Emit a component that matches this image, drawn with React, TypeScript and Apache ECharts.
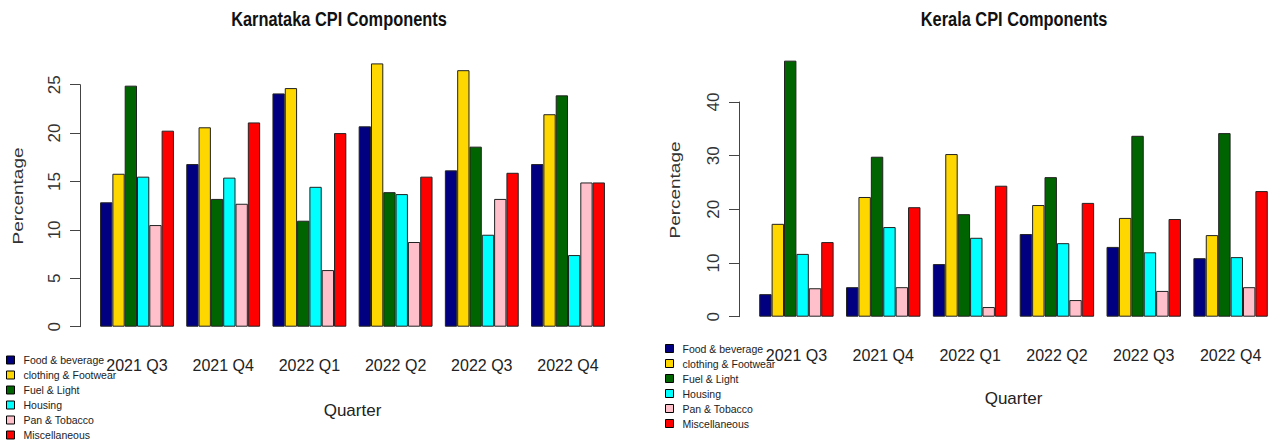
import React, { useEffect, useRef } from "react";
import * as echarts from "echarts";

const categories = ["2021 Q3", "2021 Q4", "2022 Q1", "2022 Q2", "2022 Q3", "2022 Q4"];
const componentNames = ["Food & beverage", "clothing & Footwear", "Fuel & Light", "Housing", "Pan & Tobacco", "Miscellaneous"];
const componentColors = ["#000080", "#FFD700", "#006400", "#00FFFF", "#FFC0CB", "#FF0000"];

const karnatakaFood = [12.85, 16.8, 24.1, 20.7, 16.15, 16.8];
const karnatakaClothing = [15.8, 20.6, 24.65, 27.2, 26.5, 21.95];
const karnatakaFuel = [24.9, 13.2, 10.95, 13.9, 18.6, 23.9];
const karnatakaHousing = [15.5, 15.4, 14.45, 13.7, 9.5, 7.4];
const karnatakaPan = [10.5, 12.7, 5.85, 8.75, 13.2, 14.9];
const karnatakaMisc = [20.25, 21.1, 20.0, 15.5, 15.9, 14.9];

const keralaFood = [4.2, 5.5, 9.8, 15.4, 13.0, 10.9];
const keralaClothing = [17.3, 22.3, 30.3, 20.8, 18.4, 15.2];
const keralaFuel = [47.7, 29.8, 19.1, 26.0, 33.7, 34.2];
const keralaHousing = [11.7, 16.7, 14.7, 13.7, 12.0, 11.1];
const keralaPan = [5.3, 5.5, 1.8, 3.1, 4.8, 5.5];
const keralaMisc = [13.9, 20.4, 24.4, 21.2, 18.2, 23.4];

const karnatakaTicks = { min: 0, max: 25, interval: 5 };
const keralaTicks = { min: 0, max: 40, interval: 10 };

const karnatakaSeries = [karnatakaFood, karnatakaClothing, karnatakaFuel, karnatakaHousing, karnatakaPan, karnatakaMisc];
const keralaSeries = [keralaFood, keralaClothing, keralaFuel, keralaHousing, keralaPan, keralaMisc];

const SANS = "'Liberation Sans', Arial, sans-serif";
const SQUEEZE = 0.78;

export default function App() {
  const ref = useRef<HTMLDivElement>(null);

  useEffect(() => {
    if (!ref.current) return;
    const chart = echarts.init(ref.current, undefined, { renderer: "svg" });

    const makeSeries = (vals: number[][], axisIdx: number) =>
      vals.map((d, i) => ({
        type: "bar",
        name: componentNames[i],
        xAxisIndex: axisIdx,
        yAxisIndex: axisIdx,
        data: d,
        barGap: "0%",
        barCategoryGap: "14.3%",
        itemStyle: { color: componentColors[i], borderColor: "#222", borderWidth: 1 },
      }));

    const axisYAxis = (gridIndex: number, t: { min: number; max: number; interval: number }) => ({
      type: "value",
      gridIndex,
      min: t.min,
      max: t.max,
      interval: t.interval,
      splitLine: { show: false },
      axisLine: { show: true, lineStyle: { color: "#444", width: 1 } },
      axisTick: { show: true, length: 10, lineStyle: { color: "#444" } },
      axisLabel: { rotate: 90, margin: 17, fontSize: 17, color: "#333", fontFamily: SANS },
    });

    const dataXAxis = (gridIndex: number, gap: number, margin: number) => ({
      type: "category",
      gridIndex,
      data: categories,
      axisLine: { show: false },
      axisTick: { show: false },
      axisLabel: { interval: 0, fontSize: 16, margin, color: "#222", fontFamily: SANS },
      name: "Quarter",
      nameLocation: "middle",
      nameGap: gap,
      nameTextStyle: { fontSize: 17, color: "#222", fontFamily: SANS },
    });

    const legendCommon = {
      orient: "vertical",
      icon: "rect",
      itemWidth: 8,
      itemHeight: 8,
      itemGap: 0,
      padding: 0,
      data: componentNames,
      selectedMode: false,
      itemStyle: { borderColor: "#000", borderWidth: 1 },
      textStyle: { fontSize: 10.5, color: "#222", fontFamily: SANS, lineHeight: 15, padding: [0, 0, 0, 4] },
    };

    const titleText = (text: string, x: number) => ({
      type: "text",
      x,
      y: 19,
      scaleX: SQUEEZE,
      style: { text, fontSize: 21, fontWeight: "bold", fontFamily: SANS, fill: "#111", align: "center", verticalAlign: "middle" },
    });

    const yName = (x: number, y: number) => ({
      type: "text",
      x,
      y,
      rotation: Math.PI / 2,
      scaleY: SQUEEZE,
      style: { text: "Percentage", fontSize: 19, fontFamily: SANS, fill: "#333", align: "center", verticalAlign: "middle" },
    });

    chart.setOption({
      animation: false,
      backgroundColor: "#fff",
      grid: [
        { left: 80, top: 84.7, height: 242, width: 10 },
        { left: 93.9, top: 36.3, height: 290.4, width: 517.2 },
        { left: 739, top: 102, height: 214.7, width: 10 },
        { left: 753, top: 48.3, height: 268.4, width: 523.6 },
      ],
      xAxis: [
        { type: "category", gridIndex: 0, data: categories, show: false },
        dataXAxis(1, 75, 31),
        { type: "category", gridIndex: 2, data: categories, show: false },
        dataXAxis(3, 73, 31),
      ],
      yAxis: [
        axisYAxis(0, karnatakaTicks),
        { type: "value", gridIndex: 1, min: 0, max: 30, show: false },
        axisYAxis(2, keralaTicks),
        { type: "value", gridIndex: 3, min: 0, max: 50, show: false },
      ],
      legend: [
        { ...legendCommon, left: 6, top: 352.5 },
        { ...legendCommon, left: 665, top: 341 },
      ],
      graphic: [
        titleText("Karnataka CPI Components", 339),
        titleText("Kerala CPI Components", 1014),
        yName(18, 196),
        yName(675, 190),
      ],
      series: [...makeSeries(karnatakaSeries, 1), ...makeSeries(keralaSeries, 3)],
    });

    return () => chart.dispose();
  }, []);

  return <div ref={ref} style={{ position: "absolute", left: 0, top: 0, width: 1274, height: 445 }} />;
}
